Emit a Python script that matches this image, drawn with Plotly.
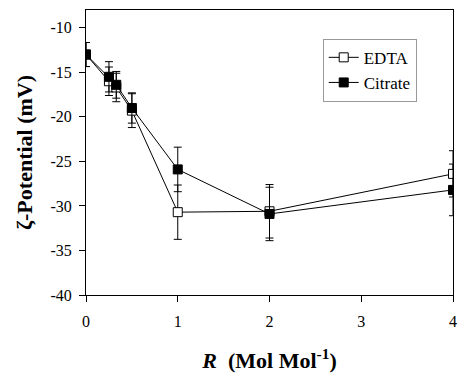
import plotly.graph_objects as go

R = [0, 0.25, 0.33, 0.5, 1, 2, 4]
edta = [-13.0, -16.0, -16.7, -19.3, -30.7, -30.6, -26.4]
edta_err = [1.35, 1.6, 1.6, 1.9, 3.05, 3.0, 2.6]
citrate = [-13.0, -15.5, -16.4, -19.0, -25.9, -30.9, -28.2]
citrate_err = [1.35, 1.7, 1.5, 1.7, 2.5, 3.0, 2.9]

x_ticks = [0, 1, 2, 3, 4]
y_ticks = [-10, -15, -20, -25, -30, -35, -40]
y_ticktext = ["-10", "-15", "-20", "-25", "-30", "-35", "-40"]

FONT = "Liberation Serif"

fig = go.Figure()
fig.add_trace(go.Scatter(
    x=R, y=edta, name="EDTA", mode="lines+markers",
    line=dict(color="black", width=1),
    marker=dict(symbol="square", size=9, color="white", line=dict(color="black", width=1)),
    error_y=dict(type="data", array=edta_err, color="black", thickness=1, width=4),
))
fig.add_trace(go.Scatter(
    x=R, y=citrate, name="Citrate", mode="lines+markers",
    line=dict(color="black", width=1),
    marker=dict(symbol="square", size=9, color="black", line=dict(color="black", width=1)),
    error_y=dict(type="data", array=citrate_err, color="black", thickness=1, width=4),
))

fig.update_layout(
    width=460, height=373,
    margin=dict(l=86, r=3, t=10, b=76),
    paper_bgcolor="white", plot_bgcolor="white",
    font=dict(family=FONT, color="black", size=16),
    showlegend=True,
    legend=dict(x=0.645, y=0.899, xanchor="left", yanchor="top",
                bordercolor="#999999", borderwidth=1, bgcolor="white",
                font=dict(size=17, family=FONT), tracegroupgap=0,
                itemwidth=30),
    xaxis=dict(range=[0, 4], tickvals=x_ticks, ticks="outside", ticklen=6,
               tickcolor="black", showline=True, linecolor="black", linewidth=1,
               mirror=True, showgrid=False, zeroline=False,
               ticklabeloverflow="allow", ticklabelstandoff=6,
               tickfont=dict(size=16, family=FONT),
               title=dict(text="<b><i>R</i>  (Mol Mol<sup>-1</sup>)</b>",
                          font=dict(size=22, family=FONT), standoff=24)),
    yaxis=dict(range=[-40, -8], tickvals=y_ticks, ticktext=y_ticktext,
               ticks="outside", ticklen=6, tickcolor="black",
               showline=True, linecolor="black", linewidth=1, mirror=True,
               showgrid=False, zeroline=False, ticklabelstandoff=4,
               tickfont=dict(size=16, family=FONT),
               title=dict(text="<b>ζ-Potential (mV)</b>",
                          font=dict(size=22, family=FONT), standoff=11)),
)

fig.write_html("out.html")
